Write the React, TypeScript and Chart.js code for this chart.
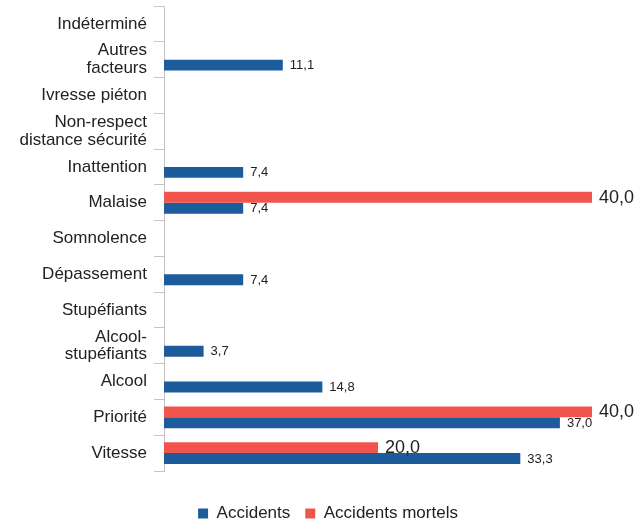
import React, { useEffect, useRef } from "react";
import { Chart, registerables } from "chart.js";

Chart.register(...registerables);

const categories: (string | string[])[] = [
  "Indéterminé",
  ["Autres", "facteurs"],
  "Ivresse piéton",
  ["Non-respect", "distance sécurité"],
  "Inattention",
  "Malaise",
  "Somnolence",
  "Dépassement",
  "Stupéfiants",
  ["Alcool-", "stupéfiants"],
  "Alcool",
  "Priorité",
  "Vitesse",
];

const accidents: (number | null)[] = [null, 11.1, null, null, 7.4, 7.4, null, 7.4, null, 3.7, 14.8, 37.0, 33.3];
const accidentsMortels: (number | null)[] = [null, null, null, null, null, 40.0, null, null, null, null, null, 40.0, 20.0];

const seriesNames = ["Accidents", "Accidents mortels"];
const BLUE = "#1d5c9a";
const RED = "#f1544c";

const FONT = "'Liberation Sans', Arial, sans-serif";

const valueLabels = {
  id: "valueLabels",
  afterDatasetsDraw(chart: any) {
    const ctx = chart.ctx;
    chart.data.datasets.forEach((ds: any, di: number) => {
      const meta = chart.getDatasetMeta(di);
      if (meta.hidden) return;
      const size = ds.labelSize || 13;
      ctx.save();
      ctx.font = `${size}px ${FONT}`;
      ctx.fillStyle = "#222";
      ctx.textAlign = "left";
      ctx.textBaseline = "middle";
      meta.data.forEach((el: any, i: number) => {
        const v = ds.data[i];
        if (v === null || v === undefined) return;
        const txt = Number(v).toFixed(1).replace(".", ",");
        ctx.fillText(txt, el.x + 7, el.y + 0.5);
      });
      ctx.restore();
    });
  },
};

const legendShift = {
  id: "legendShift",
  afterLayout(chart: any) {
    if (chart.legend) {
      chart.legend.left += 64;
    }
  },
};

export default function App() {
  const ref = useRef<HTMLCanvasElement | null>(null);
  useEffect(() => {
    if (!ref.current) return;
    Chart.defaults.font.family = FONT;
    const chart = new Chart(ref.current, {
      type: "bar",
      data: {
        labels: categories,
        datasets: [
          {
            label: seriesNames[1],
            data: accidentsMortels,
            backgroundColor: RED,
            categoryPercentage: 0.61,
            barPercentage: 1,
            labelSize: 18,
          } as any,
          {
            label: seriesNames[0],
            data: accidents,
            backgroundColor: BLUE,
            categoryPercentage: 0.61,
            barPercentage: 1,
            labelSize: 13,
          } as any,
        ],
      },
      options: {
        indexAxis: "y",
        animation: false,
        responsive: false,
        layout: { padding: { top: 6, right: 50, bottom: -7, left: 0 } },
        scales: {
          x: { display: false, min: 0, max: 40 },
          y: {
            grid: {
              display: true,
              drawOnChartArea: false,
              drawTicks: true,
              tickLength: 10,
              color: "#c4c4c4",
              offset: true,
            },
            border: { display: true, color: "#c4c4c4" },
            ticks: {
              autoSkip: false,
              font: { family: FONT, size: 17, lineHeight: 1.05 },
              color: "#222",
              padding: 7,
            },
            afterFit: (s: any) => {
              s.width = 164;
              s.paddingTop = 0;
              s.paddingBottom = 0;
            },
          },
        },
        plugins: {
          tooltip: { enabled: false },
          legend: {
            position: "bottom",
            reverse: true,
            title: { display: true, text: "", font: { size: 10, lineHeight: 1 }, padding: { top: 9, bottom: 0 } },
            labels: {
              boxWidth: 10,
              boxHeight: 10,
              padding: 15,
              color: "#222",
              font: { family: FONT, size: 17 },
            },
          },
        },
      },
      plugins: [valueLabels, legendShift],
    });
    return () => chart.destroy();
  }, []);
  return (
    <div style={{ position: "fixed", left: 0, top: 0, width: 642, height: 525, background: "#fff" }}>
      <canvas ref={ref} width={642} height={525} style={{ display: "block" }} />
    </div>
  );
}
